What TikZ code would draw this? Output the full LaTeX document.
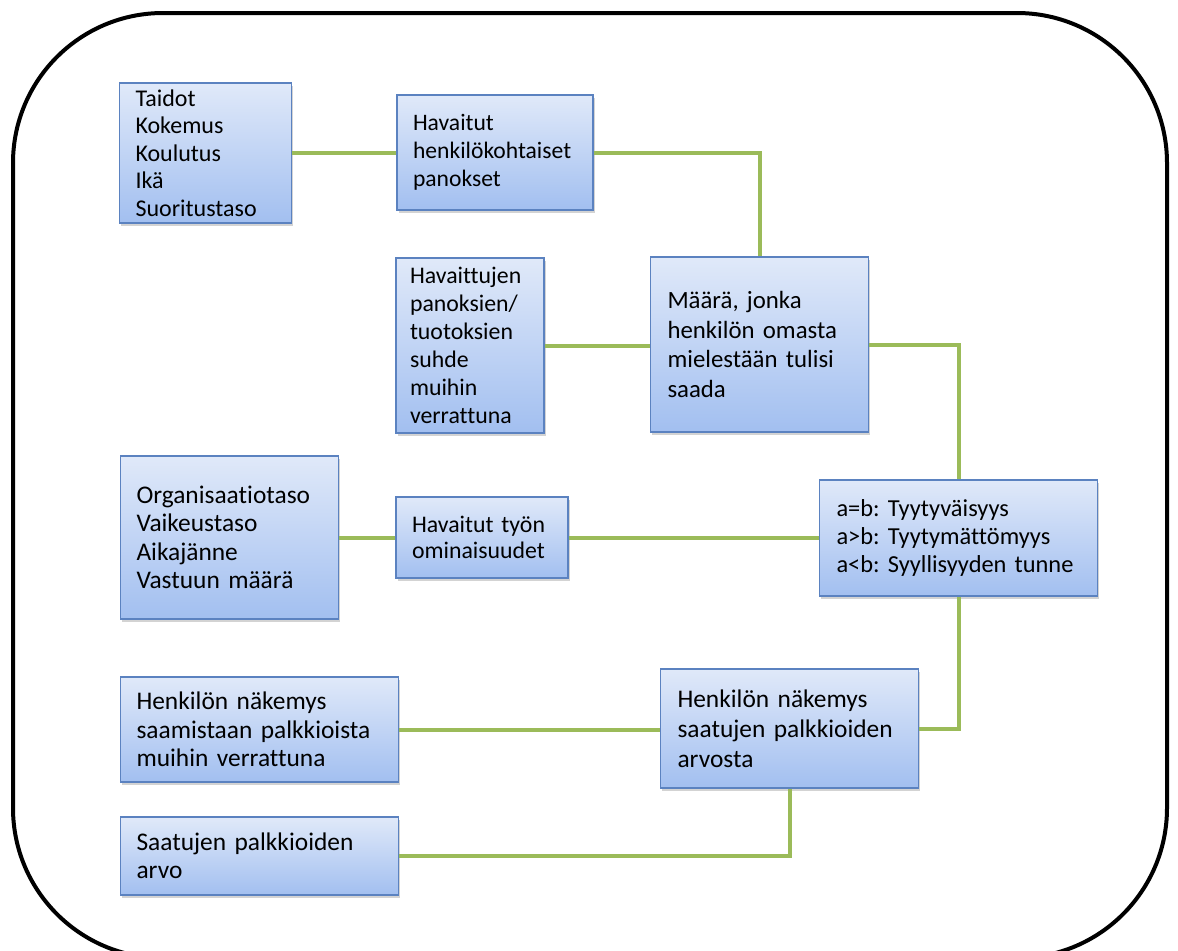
\documentclass[tikz,border=0pt]{standalone}
\usepackage{fontspec}
\setmainfont{Carlito}[Ligatures=NoCommon]
\frenchspacing
\usetikzlibrary{shadows}
\definecolor{boxtop}{HTML}{E0E9F9}
\definecolor{boxbot}{HTML}{A2BFF0}
\definecolor{boxline}{HTML}{5B82C0}
\definecolor{conn}{HTML}{9BBB59}
\tikzset{
  box/.style={rectangle, draw=boxline, line width=0.6pt, top color=boxtop, bottom color=boxbot,
    align=left, inner xsep=8pt, inner ysep=0pt, anchor=center,
    drop shadow={opacity=0.35, shadow xshift=0.8pt, shadow yshift=-1.4pt}},
  bx/.style n args={3}{minimum width=#1pt, minimum height=#2pt, text width=#3pt},
  link/.style={draw=conn, line width=2pt},
  frame/.style={draw=black, line width=2pt, rounded corners=75pt}
}
\begin{document}
\begin{tikzpicture}[x=0.5pt,y=-0.5pt]
\useasboundingbox (0,0) rectangle (1178,950);
\clip (0,0) rectangle (1178,950);
\draw[frame] (13,13) rectangle (1167,958);

\node[box, bx={84.5}{70}{70}, font=\fontsize{12}{13.75}\selectfont] (t) at (205.5,153)
  {Taidot\\Kokemus\\Koulutus\\Ikä\\Suoritustaso};
\node[box, bx={97}{57.5}{82}, font=\fontsize{11.8}{14}\selectfont] (hp) at (495,152.5)
  {Havaitut\\henkilökohtaiset\\panokset};
\node[box, bx={72}{87.5}{60}, inner xsep=7pt, font=\fontsize{11.9}{14}\selectfont] (hs) at (470,345.5)
  {Havaittujen\\panoksien/\\tuotoksien\\suhde\\muihin\\verrattuna};
\node[box, bx={108.5}{87.5}{92}, inner xsep=8.5pt, font=\fontsize{12.4}{14.8}\selectfont] (m) at (759.5,344.5)
  {Määrä, jonka\\henkilön omasta\\mielestään tulisi\\saada};
\node[box, bx={108.5}{81.5}{93}, font=\fontsize{12.7}{14.2}\selectfont] (o) at (229.5,537.5)
  {Organisaatiotaso\\Vaikeustaso\\Aikajänne\\Vastuun määrä};
\node[box, bx={85}{40.5}{70}, font=\fontsize{11.9}{13.3}\selectfont] (ht) at (482,537.5)
  {Havaitut työn\\ominaisuudet};
\node[box, bx={138.5}{58}{122}, inner xsep=8.5pt, font=\fontsize{12.2}{14.2}\selectfont] (ab) at (958.5,538)
  {a=b: Tyytyväisyys\\a>b: Tyytymättömyys\\a<b: Syyllisyyden tunne};
\node[box, bx={138.5}{52.5}{123}, font=\fontsize{12.7}{14.2}\selectfont] (hn1) at (259.5,729.5)
  {Henkilön näkemys\\saamistaan palkkioista\\muihin verrattuna};
\node[box, bx={128.5}{59.5}{112}, inner xsep=8.5pt, font=\fontsize{12.7}{15}\selectfont] (hn2) at (789.5,728.5)
  {Henkilön näkemys\\saatujen palkkioiden\\arvosta};
\node[box, bx={138.5}{39}{123}, font=\fontsize{12.7}{14}\selectfont] (sp) at (259.5,856)
  {Saatujen palkkioiden\\arvo};

\draw[link] (t.east) -- (t.east -| hp.west);
\draw[link] (hp.east) -| (m.north);
\draw[link] (hs.east) -- (hs.east -| m.west);
\draw[link] (m.east) -| (ab.north);
\draw[link] (o.east) -- (ht.west);
\draw[link] (ht.east) -- (ht.east -| ab.west);
\draw[link] (ab.south) |- (hn2.east);
\draw[link] (hn1.east) -- (hn1.east -| hn2.west);
\draw[link] (hn2.south) |- (sp.east);
\end{tikzpicture}
\end{document}
